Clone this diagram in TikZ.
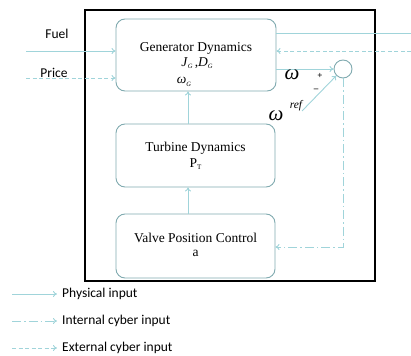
\documentclass[tikz,border=0pt]{standalone}
\usepackage{fontspec}
\setmainfont{Liberation Serif}
\newfontfamily\lblfont{Carlito}
\usetikzlibrary{arrows.meta,calc}
\definecolor{arrowc}{RGB}{160,212,218}
\definecolor{boxc}{RGB}{128,170,175}
\tikzset{
  conn/.style={draw=arrowc, line width=0.9pt},
  tip/.style={-{To[length=4pt,width=6pt]}},
  phys/.style={conn},
  extc/.style={conn, dash pattern=on 4pt off 2.5pt},
  intc/.style={conn, dash pattern=on 9pt off 3pt on 1.5pt off 3pt},
  blockbox/.style={draw=boxc, line width=0.9pt, rounded corners=9pt, inner sep=0pt, align=center},
  btext/.style={font=\fontsize{13.5}{15}\selectfont, inner sep=0pt},
  lbl/.style={font=\lblfont\fontsize{13.5}{15}\selectfont, inner sep=0pt},
}
\newcommand{\smsub}[1]{\raisebox{-2.5pt}{\fontsize{6.5}{7}\selectfont\textit{#1}}}
\begin{document}
\begin{tikzpicture}[x=1pt,y=-1pt]
\useasboundingbox (0,0) rectangle (411,355);
% outer frame
\draw[line width=1.2pt] (85,10) rectangle (375,281);
% blocks
\node[blockbox, minimum width=160pt, minimum height=72pt] (gen) at (196,55) {};
\node[btext] (gent) at (196,48) {Generator Dynamics};
\node[btext] (genj) at (197,63) {\textit{J}\smsub{G}\,,\textit{D}\smsub{G}};
\node[btext] (genw) at (184,82) {\textit{ω}\smsub{G}};
\node[blockbox, minimum width=159pt, minimum height=63pt] (turb) at (195.5,155.5) {};
\node[btext] (turbt) at (195.5,148) {Turbine Dynamics};
\node[btext] (turbp) at (195.5,164) {P\raisebox{-2.5pt}{\fontsize{7}{8}\selectfont T}};
\node[blockbox, minimum width=159pt, minimum height=64pt] (valve) at (195.5,246) {};
\node[btext] (valvet) at (195.5,238) {Valve Position Control};
\node[btext] (valvea) at (195.5,253) {a};
% summing junction
\node[circle, draw=boxc, line width=0.9pt, minimum size=18pt, inner sep=0pt] (sum) at (343,69) {};
% coordinates
\coordinate (fuelS) at (26,51);
\coordinate (priceS) at (26,78);
\coordinate (outE) at (411,33);
\coordinate (extE) at (411,51);
\coordinate (refS) at (302,111);
\coordinate (vr) at (343,247);
\coordinate (ax) at (188,0);
% connectors
\draw[phys, tip] (fuelS) -- (fuelS -| gen.west);
\draw[extc, tip] (priceS) -- (priceS -| gen.west);
\draw[phys] (outE -| gen.east) -- (outE);
\draw[extc, tip] (extE) -- (extE -| gen.east);
\draw[phys, tip] (sum -| gen.east) -- (sum.west);
\draw[phys, tip] (refS) -- (sum.225);
\draw[intc, tip] (sum.south) -- (vr) -- (vr -| valve.east);
\draw[phys, tip] (ax |- valve.north) -- (ax |- turb.south);
\draw[phys, tip] (ax |- turb.north) -- (ax |- gen.south);
% labels
\node[lbl] (fuel) at (57,34) {Fuel};
\node[lbl] (price) at (54,73) {Price};
\node[font=\fontsize{21}{22}\selectfont\itshape, inner sep=0pt] (wl) at (292,75) {ω};
\node[font=\fontsize{9}{10}\selectfont\bfseries, inner sep=0pt] (plus) at (320,76) {+};
\node[font=\fontsize{9}{10}\selectfont\bfseries, inner sep=0pt] (minus) at (316,90) {–};
\node[font=\fontsize{21}{22}\selectfont\itshape, inner sep=0pt] (wr) at (276,116) {ω};
\node[font=\fontsize{11.5}{12}\selectfont\itshape, inner sep=0pt] (refl) at (296,106) {ref};
% legend
\coordinate (l1) at (12,294);
\coordinate (l2) at (12,321);
\coordinate (l3) at (12,348);
\draw[phys, tip] (l1) -- ++(45,0) coordinate (l1e);
\draw[intc, tip] (l2) -- ++(45,0) coordinate (l2e);
\draw[extc, tip] (l3) -- ++(45,0) coordinate (l3e);
\node[lbl, anchor=west] (lt1) at ($(l1e)+(5,0)$) {Physical input};
\node[lbl, anchor=west] (lt2) at ($(l2e)+(5,0)$) {Internal cyber input};
\node[lbl, anchor=west] (lt3) at ($(l3e)+(5,0)$) {External cyber input};
\end{tikzpicture}
\end{document}
